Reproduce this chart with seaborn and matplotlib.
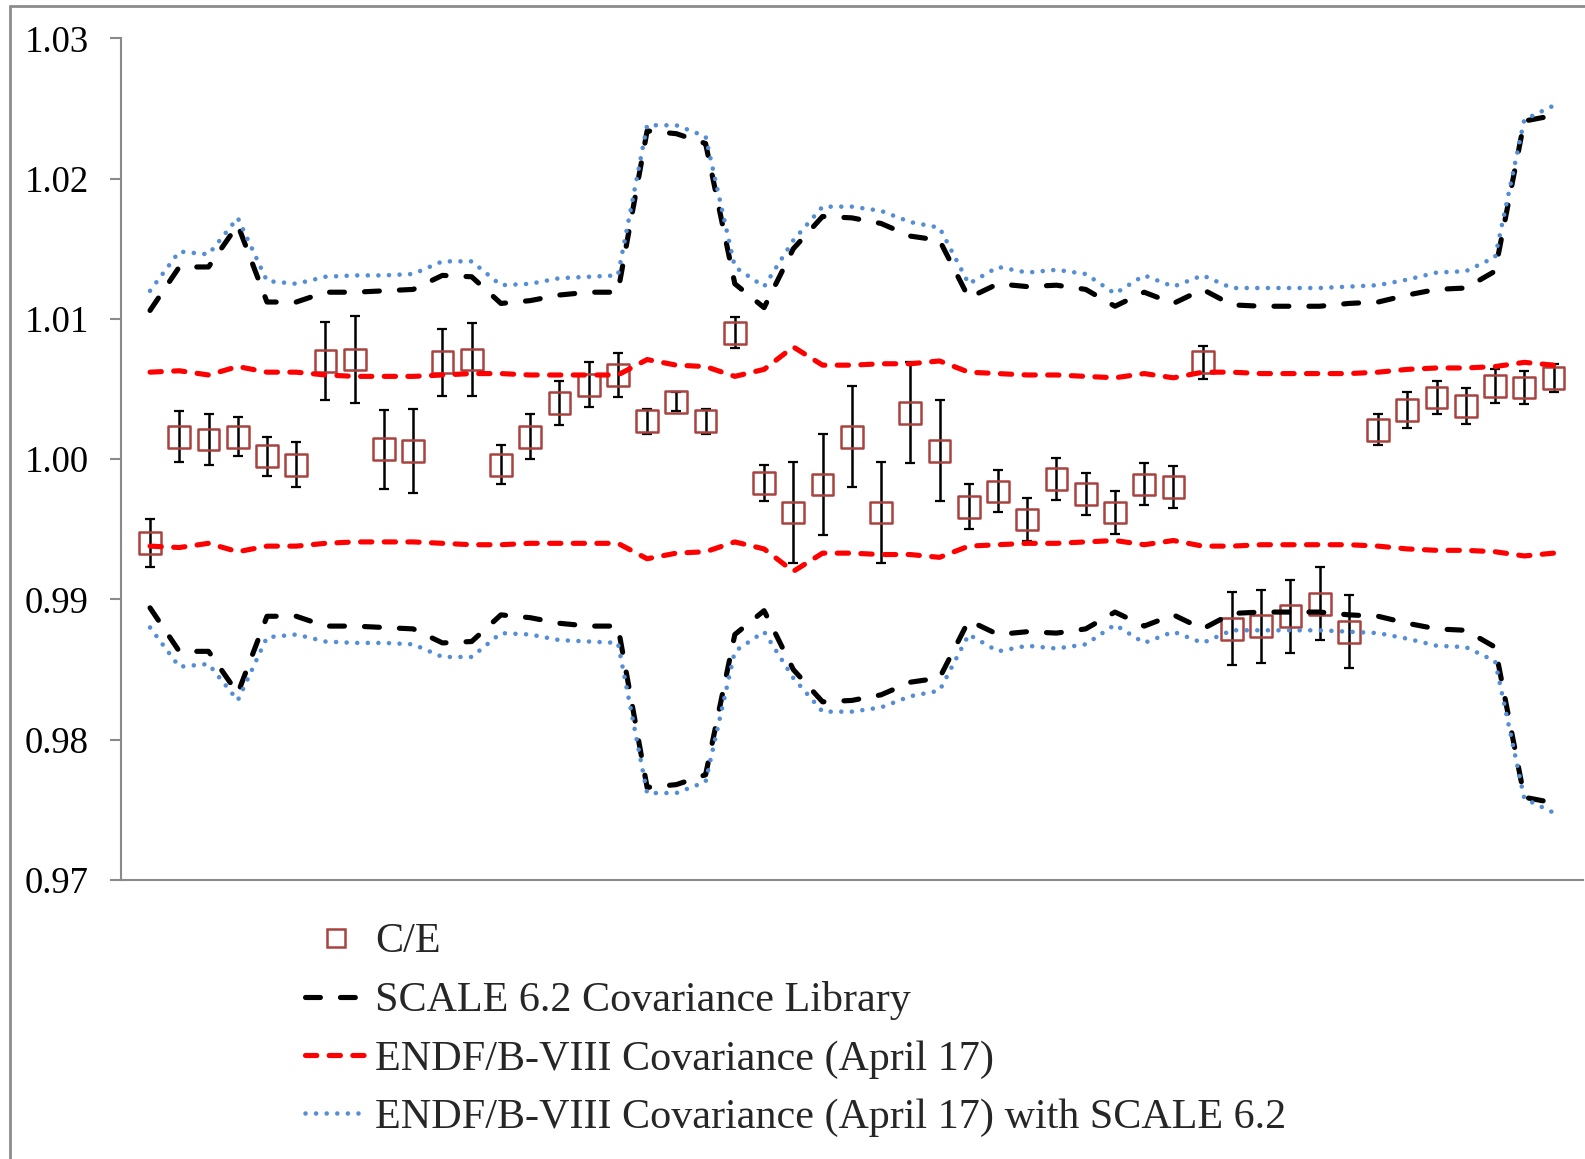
import numpy as np
import matplotlib
matplotlib.use("Agg")
import matplotlib.pyplot as plt
from matplotlib.lines import Line2D
from matplotlib.ticker import FormatStrFormatter, MultipleLocator
import seaborn as sns

# Benchmark index (1..49)
case = np.arange(1, 50)

# Calculated-to-experiment ratios and their 1-sigma experimental uncertainties
ce = [0.9940, 1.0016, 1.0014, 1.0016, 1.0002, 0.9996, 1.0070, 1.0071, 1.0007, 1.0006,
      1.0069, 1.0071, 0.9996, 1.0016, 1.0040, 1.0053, 1.0060, 1.0027, 1.0041, 1.0027,
      1.0090, 0.9983, 0.9962, 0.9982, 1.0016, 0.9962, 1.0033, 1.0006, 0.9966, 0.9977,
      0.9957, 0.9986, 0.9975, 0.9962, 0.9982, 0.9980, 1.0069, 0.9879, 0.9881, 0.9888,
      0.9897, 0.9877, 1.0021, 1.0035, 1.0044, 1.0038, 1.0052, 1.0051, 1.0058]
ce_err = [0.0017, 0.0018, 0.0018, 0.0014, 0.0014, 0.0016, 0.0028, 0.0031, 0.0028, 0.0030,
          0.0024, 0.0026, 0.0014, 0.0016, 0.0016, 0.0016, 0.0016, 0.0009, 0.0007, 0.0009,
          0.0011, 0.0013, 0.0036, 0.0036, 0.0036, 0.0036, 0.0036, 0.0036, 0.0016, 0.0015,
          0.0015, 0.0015, 0.0015, 0.0015, 0.0015, 0.0015, 0.0012, 0.0026, 0.0026, 0.0026,
          0.0026, 0.0026, 0.0011, 0.0013, 0.0012, 0.0013, 0.0012, 0.0012, 0.0010]

# Relative 1-sigma uncertainty from nuclear data covariance
scale62_unc = [0.0106, 0.0137, 0.0137, 0.0167, 0.0112, 0.0112, 0.0119, 0.0119, 0.0120, 0.0121,
               0.0131, 0.0130, 0.0111, 0.0113, 0.0117, 0.0119, 0.0119, 0.0234, 0.0232, 0.0225,
               0.0125, 0.0108, 0.0150, 0.0173, 0.0172, 0.0168, 0.0159, 0.0156, 0.0115, 0.0125,
               0.0123, 0.0124, 0.0121, 0.0109, 0.0119, 0.0111, 0.0121, 0.0110, 0.0109, 0.0109,
               0.0109, 0.0111, 0.0112, 0.0117, 0.0121, 0.0122, 0.0134, 0.0241, 0.0245]
endf8_unc = [0.0062, 0.0063, 0.0060, 0.0066, 0.0062, 0.0062, 0.0060, 0.0059, 0.0059, 0.0059,
             0.0060, 0.0061, 0.0061, 0.0060, 0.0060, 0.0060, 0.0060, 0.0071, 0.0067, 0.0066,
             0.0059, 0.0064, 0.0080, 0.0067, 0.0067, 0.0068, 0.0068, 0.0070, 0.0062, 0.0061,
             0.0060, 0.0060, 0.0059, 0.0058, 0.0061, 0.0058, 0.0062, 0.0062, 0.0061, 0.0061,
             0.0061, 0.0061, 0.0062, 0.0064, 0.0065, 0.0065, 0.0066, 0.0069, 0.0067]
endf8_scale_unc = [0.0120, 0.0148, 0.0146, 0.0172, 0.0127, 0.0125, 0.0130, 0.0131, 0.0131, 0.0132,
                   0.0141, 0.0141, 0.0124, 0.0125, 0.0129, 0.0130, 0.0131, 0.0238, 0.0238, 0.0230,
                   0.0137, 0.0123, 0.0156, 0.0180, 0.0180, 0.0177, 0.0169, 0.0165, 0.0125, 0.0137,
                   0.0133, 0.0135, 0.0132, 0.0118, 0.0131, 0.0123, 0.0131, 0.0122, 0.0122, 0.0122,
                   0.0122, 0.0123, 0.0124, 0.0128, 0.0133, 0.0134, 0.0144, 0.0242, 0.0252]

labels = ["C/E",
          "SCALE 6.2 Covariance Library",
          "ENDF/B-VIII Covariance (April 17)",
          "ENDF/B-VIII Covariance (April 17) with SCALE 6.2"]

sns.set_theme(style="white")
plt.rcParams["font.family"] = ["Liberation Serif", "DejaVu Serif"]

W, H = 1585, 1159
fig = plt.figure(figsize=(W / 100, H / 100), dpi=100)
fig.patch.set_facecolor("white")
ax = fig.add_axes([120.8 / W, 1 - 880 / H, 1462 / W, 841.7 / H])

marker_color = "#A8433F"
styles = [
    dict(color="black", lw=3.7, ls=(0, (2.9, 3.9))),
    dict(color="#FF0000", lw=3.7, ls=(0, (2.2, 2.4))),
    dict(color="#558ED5", lw=3.3, ls=(0, (0.01, 2.3))),
]
bands = [scale62_unc, endf8_unc, endf8_scale_unc]

# experimental error bars and C/E markers
ax.errorbar(case, ce, yerr=ce_err, fmt="none", ecolor="black",
            elinewidth=1.8, capsize=3.9, capthick=1.6, zorder=2)
sns.scatterplot(x=case, y=ce, marker="s", s=245, color=marker_color,
                facecolor="none", edgecolor=marker_color, linewidth=1.8,
                zorder=3, ax=ax, legend=False)

# +/- 1 sigma covariance bands around unity
for unc, st in zip(bands, styles):
    u = np.asarray(unc)
    for sign in (1, -1):
        sns.lineplot(x=case, y=1 + sign * u, color=st["color"], linewidth=st["lw"],
                     linestyle=st["ls"], ax=ax, legend=False, zorder=4)
for ln in ax.lines:
    ln.set_dash_capstyle("round")
    ln.set_solid_capstyle("round")

ax.set_xlim(0, 50)
ax.set_ylim(0.97, 1.03)
ax.yaxis.set_major_locator(MultipleLocator(0.01))
ax.yaxis.set_major_formatter(FormatStrFormatter("%.2f"))
ax.set_xticks([])
ax.set_xlabel("")
ax.set_ylabel("")
for side in ("top", "right"):
    ax.spines[side].set_visible(False)
for side in ("left", "bottom"):
    ax.spines[side].set_color("#8A8A8A")
    ax.spines[side].set_linewidth(1.5)
ax.tick_params(axis="y", direction="out", length=8, width=1.5, color="#8A8A8A",
               labelsize=26.5, pad=15, left=True, labelcolor="black")
ax.patch.set_alpha(0)

# legend
handles = [Line2D([], [], ls="none", marker="s", ms=13, mfc="none",
                  mec=marker_color, mew=1.8)]
for st in styles:
    h = Line2D([], [], color=st["color"], lw=st["lw"], ls=st["ls"])
    h.set_dash_capstyle("round")
    handles.append(h)
fig.legend(handles, labels, loc="upper left",
           bbox_to_anchor=(305 / W, 1 - 923 / H), frameon=False,
           fontsize=30.3, handlelength=1.48, handletextpad=0.19,
           labelspacing=0.47, borderpad=0, borderaxespad=0)

# chart area border
fig.add_artist(Line2D([10 / W, 10 / W], [0, 1 - 6 / H], transform=fig.transFigure,
                      color="#8C8C8C", lw=2))
fig.add_artist(Line2D([10 / W, 1], [1 - 6 / H, 1 - 6 / H], transform=fig.transFigure,
                      color="#8C8C8C", lw=2))

fig.savefig("out.png", dpi=100)
